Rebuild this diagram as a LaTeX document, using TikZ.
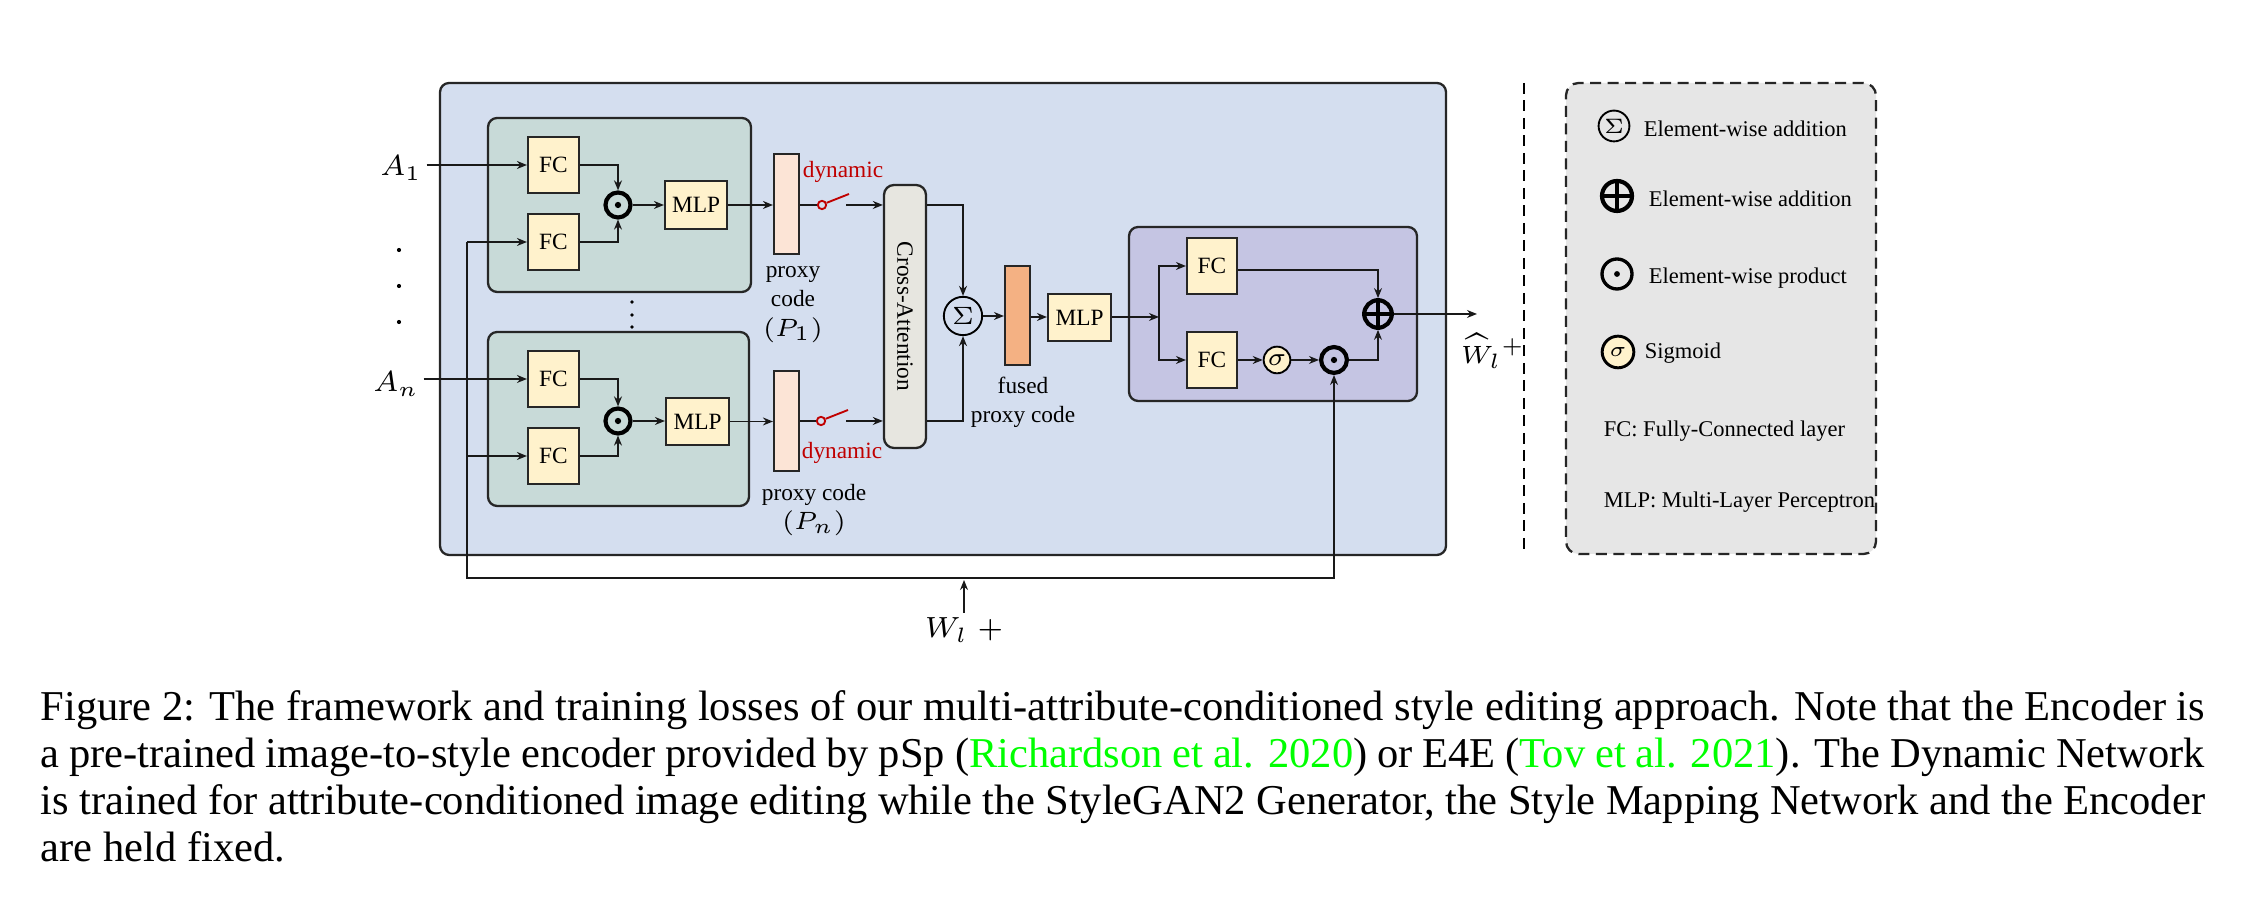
\documentclass[tikz,border=0pt]{standalone}
\usepackage{fontspec}
\setmainfont{Liberation Serif}
\usetikzlibrary{arrows.meta,calc}
\definecolor{mainbg}{HTML}{D4DEEF}
\definecolor{greenbg}{HTML}{C8DAD8}
\definecolor{fcfill}{HTML}{FFF2CC}
\definecolor{proxyfill}{HTML}{FCE4D6}
\definecolor{fusedfill}{HTML}{F4B183}
\definecolor{purplebg}{HTML}{C5C5E3}
\definecolor{cafill}{HTML}{E7E6E0}
\definecolor{legendbg}{HTML}{E6E6E6}
\definecolor{dynred}{HTML}{C00000}
\definecolor{citegreen}{HTML}{00FF00}
\newcommand{\dfont}{\fontsize{5.6}{7}\selectfont}
\newcommand{\lfont}{\fontsize{5.4}{6.5}\selectfont}
\newcommand{\mfont}{\fontsize{7}{8}\selectfont}
\newcommand{\hfont}{\fontsize{6.5}{7.5}\selectfont}
\newcommand{\capfont}{\fontsize{10.2}{12}\selectfont}
% \rbox{name}{x1}{y1}{x2}{y2}{style}{text}
\newcommand{\rbox}[7]{\node[#6, minimum width={(#4-#2)*0.24pt}, minimum height={(#5-#3)*0.24pt}] (#1) at ({(#2+#4)/2},{(#3+#5)/2}) {#7};}
\tikzset{
  plainbox/.style={draw=black!85, line width=0.5pt, inner sep=0pt, font=\dfont},
  fcbox/.style={plainbox, fill=fcfill},
  container/.style={draw=black!85, line width=0.55pt, rounded corners=2.2pt, inner sep=0pt},
  arr/.style={-{Stealth[length=2.4pt,width=1.9pt]}, line width=0.42pt, black!90},
  ln/.style={line width=0.42pt, black!90},
  opcirc/.style={circle, draw, line width=1.0pt, inner sep=0pt, minimum size=#1},
  thincirc/.style={circle, draw, line width=0.45pt, inner sep=0pt, minimum size=#1},
  lbl/.style={inner sep=0pt, font=\dfont, align=center},
  legtext/.style={anchor=west, inner sep=0pt, font=\lfont},
  capline/.style={anchor=base west, inner sep=0pt, font=\capfont},
}
\begin{document}
\begin{tikzpicture}[x=0.24pt,y=-0.24pt]
\useasboundingbox (0,0) rectangle (2246,915);
\fill[white] (0,0) rectangle (2246,915);

% ---- containers ----
\rbox{main}{440}{83}{1446}{555}{container, fill=mainbg}{}
\rbox{g1}{488}{118}{751}{292}{container, fill=greenbg}{}
\rbox{g2}{488}{332}{749}{506}{container, fill=greenbg}{}
\rbox{pur}{1129}{227}{1417}{401}{container, fill=purplebg}{}

% ---- branch 1 ----
\rbox{fc1}{528}{137}{579}{193}{fcbox}{FC}
\rbox{fc2}{528}{214}{579}{270}{fcbox}{FC}
\node[opcirc=6pt] (od1) at (618,205) {};
\fill (od1.center) circle (0.75pt);
\rbox{mlp1}{665}{181}{727}{229}{fcbox}{MLP}
\rbox{bar1}{774}{154}{799}{254}{plainbox, fill=proxyfill}{}
\node[circle, draw=dynred, line width=0.45pt, inner sep=0pt, minimum size=2.0pt] (sw1) at (822,205) {};
\coordinate (sw1e) at (849,194);
\coordinate (sw1o) at (846,205);
\node[lbl, text=dynred, anchor=base] (dyn1) at (843,178) {dynamic};
\node[lbl, anchor=north] (pc1) at (793,266) {proxy\\code\\$(P_1)$};

% ---- branch n ----
\rbox{fc3}{528}{351}{579}{407}{fcbox}{FC}
\rbox{fc4}{528}{428}{579}{484}{fcbox}{FC}
\node[opcirc=6pt] (od2) at (618,421) {};
\fill (od2.center) circle (0.75pt);
\rbox{mlp2}{666}{398}{729}{445}{fcbox}{MLP}
\rbox{bar2}{774}{371}{799}{471}{plainbox, fill=proxyfill}{}
\node[circle, draw=dynred, line width=0.45pt, inner sep=0pt, minimum size=2.0pt] (sw2) at (821,421) {};
\coordinate (sw2e) at (848,410);
\coordinate (sw2o) at (846,421);
\node[lbl, text=dynred, anchor=base] (dyn2) at (842,459) {dynamic};
\node[lbl, anchor=north] (pc2) at (814,483) {proxy code\\$(P_n)$};

% ---- inputs ----
\node[inner sep=1pt, font=\mfont] (A1) at (401,168) {$A_1$};
\node[inner sep=1pt, font=\mfont] (An) at (396,384) {$A_n$};
\foreach \yy in {250,286,322} \fill (399,\yy) circle (0.5pt);
\foreach \yy in {302,315,327} \fill (632,\yy) circle (0.45pt);

% ---- cross attention & fusion ----
\rbox{ca}{884}{185}{926}{448}{container, fill=cafill, rounded corners=2.4pt}{}
\node[rotate=-90, font=\dfont, inner sep=0pt] (catext) at (ca.center) {Cross-Attention};
\node[thincirc=9.2pt, font=\dfont] (sig) at (963,316) {$\Sigma$};
\rbox{fbar}{1005}{266}{1030}{365}{plainbox, fill=fusedfill}{}
\rbox{mlp3}{1048}{294}{1111}{341}{fcbox}{MLP}
\node[lbl, anchor=north] (fpc) at (1023,376) {fused\\proxy code};

% ---- gated block ----
\coordinate (br) at (1159,317);
\rbox{fc5}{1187}{238}{1237}{294}{fcbox}{FC}
\rbox{fc6}{1187}{332}{1237}{388}{fcbox}{FC}
\node[thincirc=6.4pt, fill=fcfill, font=\dfont] (sg) at (1277,360) {$\sigma$};
\node[opcirc=6.2pt] (od3) at (1334,360) {};
\fill (od3.center) circle (0.75pt);
\node[opcirc=6.6pt] (op) at (1378,314) {};
\draw[line width=1.0pt] (op.north) -- (op.south) (op.west) -- (op.east);
\coordinate (outend) at (1477,314);
\node[inner sep=0pt, font=\hfont] (what) at (1493,351) {$\widehat{W}_l{}^{+}$};

% ---- W_l+ input ----
\coordinate (wl) at (467,578);
\node[inner sep=1pt, font=\mfont] (wlab) at (964,630) {$W_l\;+$};
\coordinate (wtip) at (964,580);

% ---- connectors ----
\draw[arr] (fc1.west -| A1.east) -- (fc1.west);
\draw[arr] (fc3.west -| An.east) -- (fc3.west);
\draw[arr] (fc1.east) -| (od1.north);
\draw[arr] (fc2.east) -| (od1.south);
\draw[arr] (fc3.east) -| (od2.north);
\draw[arr] (fc4.east) -| (od2.south);
\draw[arr] (od1.east) -- (od1.east -| mlp1.west);
\draw[arr] (od2.east) -- (od2.east -| mlp2.west);
\draw[arr] (mlp1.east) -- (mlp1.east -| bar1.west);
\draw[arr] (mlp2.east) -- (mlp2.east -| bar2.west);
\draw[ln] (sw1.west -| bar1.east) -- (sw1.west);
\draw[ln] (sw2.west -| bar2.east) -- (sw2.west);
\draw[dynred, line width=0.45pt] (sw1.25) -- (sw1e);
\draw[dynred, line width=0.45pt] (sw2.25) -- (sw2e);
\draw[arr] (sw1o) -- (sw1o -| ca.west);
\draw[arr] (sw2o) -- (sw2o -| ca.west);
\draw[arr] (sw1o -| ca.east) -| (sig.north);
\draw[arr] (sw2o -| ca.east) -| (sig.south);
\draw[arr] (sig.east) -- (sig.east -| fbar.west);
\draw[arr] (fbar.east |- br) -- (br -| mlp3.west);
\draw[arr] (mlp3.east |- br) -- (br);
\draw[arr] (br) |- (fc5.west);
\draw[arr] (br) |- (fc6.west);
\draw[arr] (fc6.east |- sg) -- (sg.west);
\draw[arr] (sg.east) -- (od3.west);
\draw[arr] ([yshift=-1pt]fc5.east) -| (op.north);
\draw[arr] (od3.east) -| (op.south);
\draw[arr] (op.east) -- (outend);
\draw[arr] (fc2.west -| wl) -- (fc2.west);
\draw[arr] (fc4.west -| wl) -- (fc4.west);
\draw[arr] (fc2.west -| wl) -- (wl) -- (wl -| od3) -- (od3.south);
\draw[arr] (wlab.north) -- (wtip);

% ---- separator & legend ----
\draw[dashed, line width=0.55pt, dash pattern=on 2.6pt off 1.6pt] (1524,83) -- (1524,550);
\rbox{leg}{1566}{83}{1876}{554}{container, fill=legendbg, dashed, dash pattern=on 2.6pt off 1.6pt, rounded corners=3pt}{}
\node[thincirc=7.4pt, font=\lfont] (lsig) at (1614,126) {$\Sigma$};
\node[legtext] (lsigt) at (1643,129) {Element-wise addition};
\node[opcirc=7.2pt] (lop) at (1617,196) {};
\draw[line width=1.0pt] (lop.north) -- (lop.south) (lop.west) -- (lop.east);
\node[legtext] (lopt) at (1648,199) {Element-wise addition};
\node[opcirc=7.2pt, line width=0.8pt] (lod) at (1617,274) {};
\fill (lod.center) circle (0.7pt);
\node[legtext] (lodt) at (1648,278) {Element-wise product};
\node[thincirc=7.6pt, line width=0.7pt, fill=fcfill, font=\lfont] (lsg) at (1618,352) {$\sigma$};
\node[legtext] (lsgt) at (1644,353) {Sigmoid};
\node[legtext] (lfc) at (1603,431) {FC: Fully-Connected layer};
\node[legtext] (lmlp) at (1603,502) {MLP: Multi-Layer Perceptron};

% ---- caption ----
\node[capline] (cap1) at (40,721) {\makebox[519.4pt][s]{Figure 2: The framework and training losses of our multi-attribute-conditioned style editing approach. Note that the Encoder is}};
\node[capline] (cap2) at (40,768) {\makebox[519.4pt][s]{a pre-trained image-to-style encoder provided by pSp (\textcolor{citegreen}{Richardson et al. 2020}) or E4E (\textcolor{citegreen}{Tov et al. 2021}). The Dynamic Network}};
\node[capline] (cap3) at (40,815) {\makebox[519.4pt][s]{is trained for attribute-conditioned image editing while the StyleGAN2 Generator, the Style Mapping Network and the Encoder}};
\node[capline] (cap4) at (40,862) {are held fixed.};
\end{tikzpicture}
\end{document}
